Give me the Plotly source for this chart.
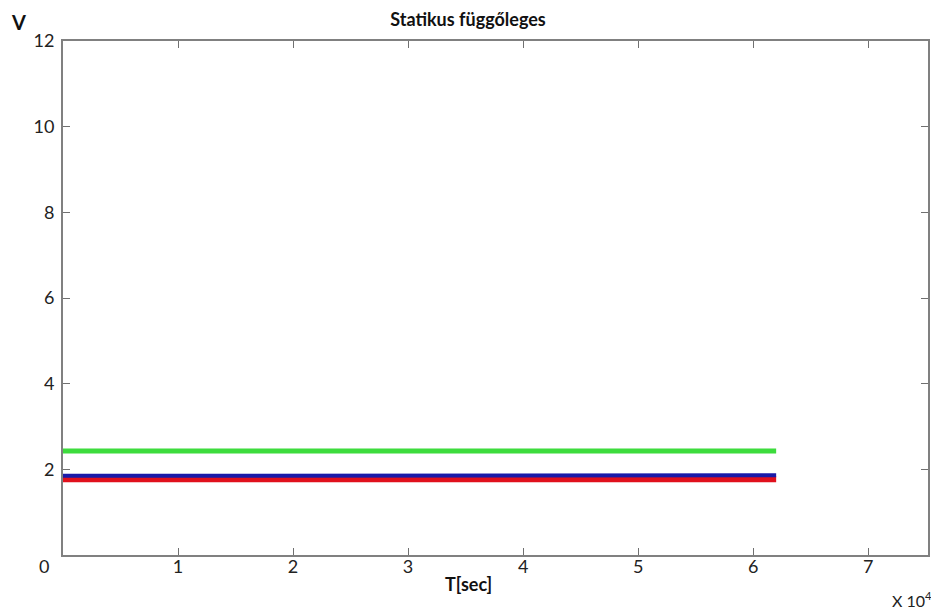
import plotly.graph_objects as go

# time samples (seconds)
t_sec = [0, 2000, 4000, 6000, 8000, 10000, 12000, 14000, 16000, 18000,
         20000, 22000, 24000, 26000, 28000, 30000, 32000, 34000, 36000, 38000,
         40000, 42000, 44000, 46000, 48000, 50000, 52000, 54000, 56000, 58000,
         60000, 62000]

green_v = [2.43, 2.43, 2.44, 2.43, 2.43, 2.44, 2.43, 2.43, 2.45, 2.43,
           2.44, 2.43, 2.43, 2.44, 2.43, 2.43, 2.43, 2.44, 2.43, 2.43,
           2.44, 2.43, 2.43, 2.43, 2.44, 2.43, 2.43, 2.44, 2.43, 2.43,
           2.43, 2.43]

blue_v = [1.85, 1.85, 1.86, 1.86, 1.87, 1.86, 1.86, 1.87, 1.86, 1.86,
          1.87, 1.86, 1.87, 1.86, 1.86, 1.87, 1.86, 1.86, 1.87, 1.86,
          1.86, 1.87, 1.86, 1.86, 1.87, 1.86, 1.86, 1.87, 1.86, 1.86,
          1.87, 1.86]

red_v = [1.77, 1.77, 1.76, 1.77, 1.78, 1.77, 1.76, 1.77, 1.78, 1.77,
         1.76, 1.77, 1.78, 1.77, 1.76, 1.77, 1.77, 1.78, 1.76, 1.77,
         1.77, 1.78, 1.76, 1.77, 1.77, 1.78, 1.77, 1.76, 1.77, 1.78,
         1.77, 1.77]

x_ticks = [10000, 20000, 30000, 40000, 50000, 60000, 70000]
x_tick_text = ["1", "2", "3", "4", "5", "6", "7"]
y_ticks = [0, 2, 4, 6, 8, 10, 12]
y_tick_text = ["", "2", "4", "6", "8", "10", "12"]

FONT = "Lato"
TICK_SIZE = 18

fig = go.Figure()
fig.add_trace(go.Scatter(x=t_sec, y=green_v, mode="lines",
                         line=dict(color="#3ddc3d", width=5)))
fig.add_trace(go.Scatter(x=t_sec, y=red_v, mode="lines",
                         line=dict(color="#e0101c", width=6)))
fig.add_trace(go.Scatter(x=t_sec, y=blue_v, mode="lines",
                         line=dict(color="#1a1aa8", width=4)))

axis_common = dict(showline=True, linecolor="#808080", linewidth=2,
                   mirror="ticks", ticks="inside", ticklen=7, tickwidth=1,
                   tickcolor="#707070", showgrid=False, zeroline=False,
                   automargin=False,
                   tickfont=dict(family=FONT, size=TICK_SIZE, color="#222222"))

fig.update_xaxes(range=[0, 75200], tickvals=x_ticks, ticktext=x_tick_text,
                 ticklabelstandoff=-6, **axis_common)
fig.update_yaxes(range=[0, 12], tickvals=y_ticks, ticktext=y_tick_text,
                 ticklabelstandoff=3, **axis_common)

# the page body adds an 8px offset, so the figure is 8px smaller
OFF = 8
W, H = 939 - OFF, 612 - OFF
L, R, T, B = 63 - OFF, 11, 41 - OFF, 57

fig.update_layout(
    width=W, height=H,
    margin=dict(l=L, r=R, t=T, b=B, autoexpand=False),
    paper_bgcolor="white", plot_bgcolor="white",
    showlegend=False,
    title=dict(text="<b>Statikus függőleges</b>", x=(468 - 63) / (W - L - R),
               xref="paper", xanchor="center",
               y=1 - (20 - OFF) / H, yanchor="middle", automargin=False,
               font=dict(family=FONT, size=18, color="#111111")),
    annotations=[
        dict(text="<b>V</b>", x=18, y=22, showarrow=False,
             font=dict(family=FONT, size=20, color="#111111")),
        dict(text="0", x=44, y=566, showarrow=False,
             font=dict(family=FONT, size=TICK_SIZE, color="#222222")),
        dict(text="<b>T[sec]</b>", x=468, y=584, showarrow=False,
             font=dict(family=FONT, size=18, color="#111111")),
        dict(text="X 10<sup>4</sup>", x=912, y=599, showarrow=False,
             font=dict(family=FONT, size=16, color="#222222")),
    ],
)

# convert page-pixel positioned annotations to paper coords
pw, ph = W - L - R, H - T - B
for a in fig.layout.annotations:
    px, py = a.x - OFF, a.y - OFF
    a.x = (px - L) / pw
    a.y = (H - B - py) / ph
    a.xref = "paper"
    a.yref = "paper"
    a.xanchor = "center"
    a.yanchor = "middle"

fig.write_html("out.html")
